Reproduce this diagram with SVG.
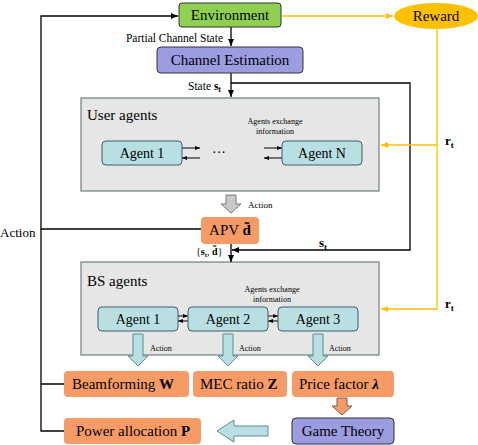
<svg xmlns="http://www.w3.org/2000/svg" width="478" height="445" viewBox="0 0 478 445" font-family="'Liberation Serif', 'Times New Roman', serif">
<defs>
<style>
text{font-family:"Liberation Serif","Times New Roman",serif;fill:#000}
.big{font-size:15px}
.ag-t{font-size:14px}
.mid{font-size:11.5px}
.sm{font-size:8px}
.ln{fill:none;stroke:#000;stroke-width:1.3}
.th{fill:none;stroke:#000;stroke-width:1}
.yl{fill:none;stroke:#ffc000;stroke-width:1.3}
.grp{fill:#e6e6e6;stroke:#7a8787;stroke-width:1.3}
.ag{fill:#b8e0e3;stroke:#3f5f63;stroke-width:1}
.or{fill:#f79b66}
.pu{fill:#9c9ce0;stroke:#333;stroke-width:1}
</style>
<marker id="ab" markerWidth="8" markerHeight="8" refX="7" refY="4" orient="auto" markerUnits="userSpaceOnUse"><path d="M0,1 L7,4 L0,7 Z" fill="#000"/></marker>
<marker id="as" markerWidth="6" markerHeight="6" refX="5" refY="3" orient="auto" markerUnits="userSpaceOnUse"><path d="M0,1 L5,3 L0,5 Z" fill="#000"/></marker>
<marker id="ay" markerWidth="8" markerHeight="8" refX="7" refY="4" orient="auto" markerUnits="userSpaceOnUse"><path d="M0,1 L7,4 L0,7 Z" fill="#ffc000"/></marker>
</defs>
<g id="user-agents"><rect x="81" y="98" width="298" height="93" class="grp"/><text class="big" x="87" y="120">User agents</text>
<text class="sm" x="275" y="124" text-anchor="middle">Agents exchange</text><text class="sm" x="275" y="134" text-anchor="middle">information</text>
<text class="ag-t" x="219" y="157" text-anchor="middle">···</text></g>
<g id="bs-agents"><rect x="81" y="262" width="298" height="93" class="grp"/><text class="big" x="87" y="286">BS agents</text>
<text class="sm" x="272" y="292" text-anchor="middle">Agents exchange</text><text class="sm" x="272" y="302" text-anchor="middle">information</text></g>
<g id="connectors">
<path class="ln" d="M201,229 H41 V16 H178" marker-end="url(#ab)"/>
<path class="ln" d="M41,384 H64 M41,229 V431 H64"/>
<path class="ln" d="M231,27 V46" marker-end="url(#ab)"/>
<path class="ln" d="M231,73 V97" marker-end="url(#ab)"/>
<path class="ln" d="M231,83 H410 V250 H232" marker-end="url(#ab)"/>
<path class="ln" d="M231,244 V262" marker-end="url(#ab)"/>
<path class="yl" d="M282,16 H393" marker-end="url(#ay)"/>
<path class="yl" d="M437,29 V309 H381" marker-end="url(#ay)"/>
<path class="yl" d="M437,145 H381" marker-end="url(#ay)"/>
<path class="th" d="M182,148 H200" marker-end="url(#as)"/>
<path class="th" d="M200,158 H182" marker-end="url(#as)"/>
<path class="th" d="M264,148 H282" marker-end="url(#as)"/>
<path class="th" d="M282,158 H264" marker-end="url(#as)"/>
<path class="th" d="M178,316 H188" marker-end="url(#as)"/>
<path class="th" d="M188,321 H178" marker-end="url(#as)"/>
<path class="th" d="M268,316 H278" marker-end="url(#as)"/>
<path class="th" d="M278,321 H268" marker-end="url(#as)"/>
<path d="M226,195 H236 V204 H241 L231,213 L221,204 H226 Z" fill="#c8c8c8" stroke="#7a7a7a" stroke-width="1"/>
<path d="M133,334 H143 V356 H148 L138,366 L128,356 H133 Z" fill="#b8e0e3" stroke="#5f8a8e" stroke-width="1"/>
<path d="M223,334 H233 V356 H238 L228,366 L218,356 H223 Z" fill="#b8e0e3" stroke="#5f8a8e" stroke-width="1"/>
<path d="M313,334 H323 V356 H328 L318,366 L308,356 H313 Z" fill="#b8e0e3" stroke="#5f8a8e" stroke-width="1"/>
<path d="M337,398 H347 V406 H352 L342,415 L332,406 H337 Z" fill="#f79b66" stroke="#7a5a4a" stroke-width="1"/>
<path d="M268,426 H234 V420 L217,431 L234,442 V436 H268 Z" fill="#b8e0e3" stroke="#5f8a8e" stroke-width="1"/>
</g>
<text class="mid" x="223" y="42" text-anchor="end">Partial Channel State</text>
<text class="mid" x="188" y="90">State <tspan font-weight="bold">s</tspan><tspan font-weight="bold" font-size="8" dy="2">t</tspan></text>
<text x="248" y="208" font-size="9">Action</text>
<text x="0" y="237" font-size="13">Action</text>
<text x="196" y="255" font-size="10">{<tspan font-weight="bold">s</tspan><tspan font-weight="bold" font-size="7" dy="2">t</tspan><tspan dy="-2">, </tspan><tspan font-weight="bold">d̃</tspan>}</text>
<text x="319" y="247" font-size="13" font-weight="bold">s<tspan font-size="9" dy="3">t</tspan></text>
<text x="445" y="145" font-size="13" font-weight="bold">r<tspan font-size="9" dy="3">t</tspan></text>
<text x="445" y="308" font-size="13" font-weight="bold">r<tspan font-size="9" dy="3">t</tspan></text>
<text class="sm" x="150" y="351">Action</text>
<text class="sm" x="239" y="351">Action</text>
<text class="sm" x="329" y="351">Action</text>
<g id="environment"><rect x="179" y="3" width="102" height="24" rx="3" fill="#90d050" stroke="#333" stroke-width="1"/><text class="big" x="230" y="20" text-anchor="middle">Environment</text></g>
<g id="reward"><ellipse cx="436" cy="16" rx="42" ry="13" fill="#ffc000"/><text class="big" x="436" y="21" text-anchor="middle">Reward</text></g>
<g id="channel-estimation"><rect x="157" y="47" width="146" height="26" rx="4" class="pu"/><text class="big" x="230" y="65" text-anchor="middle">Channel Estimation</text></g>
<g id="user-agent-1"><rect x="102" y="141" width="80" height="24" rx="4" class="ag"/><text class="ag-t" x="142" y="158" text-anchor="middle">Agent 1</text></g>
<g id="user-agent-n"><rect x="282" y="141" width="80" height="24" rx="4" class="ag"/><text class="ag-t" x="322" y="158" text-anchor="middle">Agent N</text></g>
<g id="apv"><rect x="201" y="217" width="58" height="27" rx="4" class="or"/><text class="big" x="230" y="235" text-anchor="middle">APV <tspan font-weight="bold">d̃</tspan></text></g>
<g id="bs-agent-1"><rect x="98" y="307" width="80" height="24" rx="4" class="ag"/><text class="ag-t" x="138" y="324" text-anchor="middle">Agent 1</text></g>
<g id="bs-agent-2"><rect x="188" y="307" width="80" height="24" rx="4" class="ag"/><text class="ag-t" x="228" y="324" text-anchor="middle">Agent 2</text></g>
<g id="bs-agent-3"><rect x="278" y="307" width="80" height="24" rx="4" class="ag"/><text class="ag-t" x="318" y="324" text-anchor="middle">Agent 3</text></g>
<g id="beamforming"><rect x="64" y="371" width="125" height="26" rx="4" class="or"/><text class="big" x="72" y="389">Beamforming <tspan font-weight="bold">W</tspan></text></g>
<g id="mec-ratio"><rect x="193" y="371" width="94" height="26" rx="4" class="or"/><text class="big" x="200" y="389">MEC ratio <tspan font-weight="bold">Z</tspan></text></g>
<g id="price-factor"><rect x="292" y="371" width="102" height="26" rx="4" class="or"/><text class="big" x="299" y="389">Price factor <tspan font-style="italic" font-weight="bold">λ</tspan></text></g>
<g id="game-theory"><rect x="292" y="418" width="102" height="26" rx="4" class="pu"/><text class="big" x="343" y="436" text-anchor="middle">Game Theory</text></g>
<g id="power-allocation"><rect x="64" y="418" width="137" height="26" rx="4" class="or"/><text class="big" x="76" y="436">Power allocation <tspan font-weight="bold">P</tspan></text></g>
</svg>
